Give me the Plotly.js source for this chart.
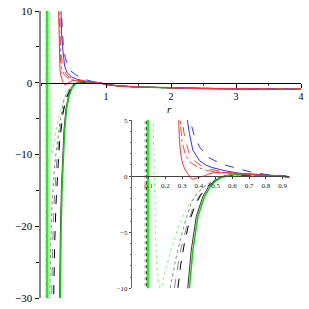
<!DOCTYPE html>
<html><head><meta charset="utf-8">
<script src="https://cdn.plot.ly/plotly-3.0.1.min.js"></script>
<style>html,body{margin:0;padding:0;background:#fff}#chart{width:309px;height:309px}</style>
</head><body><div id="chart"></div>
<script>
// shared tail (all curves merge for r >= 0.9)
const tailR = [0.9, 1.0, 1.2, 1.5, 2, 2.5, 3, 3.5, 4];
const tailV = [0.0, -0.25, -0.45, -0.6, -0.72, -0.8, -0.85, -0.88, -0.9];

const r_R1 = [0.262,0.27,0.276,0.283,0.29,0.303,0.318,0.334,0.35,0.364,0.38,0.4,0.434,0.46,0.495,0.55,0.6,0.65,0.7,0.8];
const v_R1 = [14,9.5,5.6,3.2,2.1,1.08,0.55,0.18,-0.15,-0.27,-0.22,-0.1,0.03,0.2,0.33,0.32,0.27,0.2,0.14,0.06];
const r_R2 = [0.28,0.287,0.293,0.3,0.31,0.323,0.343,0.36,0.384,0.41,0.434,0.47,0.516,0.56,0.6,0.65,0.7,0.8];
const v_R2 = [14,9.5,6.5,5,3.9,3.0,2.0,1.6,1.23,0.97,0.78,0.6,0.48,0.38,0.3,0.22,0.16,0.08];
const r_R3 = [0.27,0.278,0.285,0.292,0.3,0.32,0.35,0.4,0.45,0.5,0.6,0.7,0.8];
const v_R3 = [14,9.5,6,4.2,3.0,1.9,1.2,0.75,0.5,0.38,0.25,0.15,0.07];
const r_B1 = [0.298,0.305,0.315,0.33,0.343,0.364,0.404,0.44,0.475,0.556,0.637,0.7,0.8];
const v_B1 = [14,10,7.2,5.1,3.8,2.3,1.38,1.0,0.78,0.48,0.27,0.18,0.08];
const r_B2 = [0.305,0.312,0.325,0.345,0.374,0.404,0.455,0.536,0.637,0.7,0.8];
const v_B2 = [14,10.5,7.5,5.1,3.5,2.6,1.68,1.08,0.63,0.4,0.15];
const r_G1 = [0.285,0.295,0.31,0.325,0.343,0.364,0.394,0.434,0.465,0.495,0.53,0.556,0.6,0.65,0.7,0.8];
const v_G1 = [-37,-28,-20,-14.5,-10,-6.6,-3.6,-1.8,-1.0,-0.5,-0.15,0,0.15,0.2,0.18,0.1];
const r_K1 = [0.275,0.285,0.3,0.315,0.333,0.354,0.384,0.424,0.455,0.485,0.52,0.546,0.59,0.64,0.7,0.8];
const v_K1 = [-37,-28,-20,-14.5,-10,-6.6,-3.6,-1.8,-1.0,-0.5,-0.15,0,0.12,0.16,0.15,0.08];
const r_K2 = [0.17,0.19,0.21,0.23,0.25,0.273,0.29,0.313,0.34,0.374,0.41,0.455,0.5,0.54,0.6,0.7,0.8];
const v_K2 = [-42,-30,-22.5,-17,-13,-10,-8,-6,-4.2,-2.7,-1.7,-0.87,-0.4,-0.1,0.08,0.1,0.05];
const r_A2 = [0.14,0.16,0.18,0.2,0.22,0.24,0.253,0.28,0.3,0.33,0.36,0.4,0.45,0.5,0.55,0.6,0.7,0.8];
const v_A2 = [-42,-30,-22.5,-17,-13.5,-11.2,-10,-7.4,-6,-4.3,-3,-1.8,-0.9,-0.4,-0.05,0.1,0.1,0.05];
const r_A3 = [0.11,0.13,0.15,0.17,0.19,0.21,0.228,0.26,0.293,0.325,0.354,0.39,0.435,0.5,0.55,0.6,0.7,0.8];
const v_A3 = [-42,-30,-22,-17,-13.5,-11.5,-10,-7.5,-5.4,-3.7,-2.4,-1.5,-0.9,-0.3,0,0.1,0.1,0.05];
const r_G3 = [0.118,0.121,0.124,0.128,0.133,0.14,0.148,0.158,0.168,0.178,0.191,0.21,0.23,0.252,0.28,0.313,0.35,0.394,0.44,0.495,0.55,0.6,0.7,0.8];
const v_G3 = [40,20,10,4,-1,-5,-7.8,-9.4,-10,-9.8,-9.0,-7.8,-6.7,-5.7,-4.4,-3.3,-2.3,-1.47,-0.8,-0.3,0,0.1,0.1,0.05];
// near-vertical branches
const r_VA = [0.077,0.0775,0.078,0.0785,0.079];
const r_VK = [0.086,0.0865,0.087,0.0875,0.088];
const r_VG = [0.094,0.0945,0.095,0.0955,0.096];
const v_V  = [60,12,0,-12,-60];

const curves = [
  {r:r_VA, v:v_V, tail:false, color:'#999999', dash:'dot', width:1},
  {r:r_VK, v:v_V, tail:false, color:'#000000', dash:'dot', width:1},
  {r:r_VG, v:v_V, tail:false, color:'#22ee22', dash:'solid', width:2.5},
  {r:r_G3, v:v_G3, tail:true, color:'#77ff77', dash:'dot', width:1},
  {r:r_A3, v:v_A3, tail:true, color:'#888888', dash:'dot', width:1},
  {r:r_A2, v:v_A2, tail:true, color:'#888888', dash:'dash', width:1},
  {r:r_K2, v:v_K2, tail:true, color:'#000000', dash:'dash', width:1},
  {r:r_K1, v:v_K1, tail:true, color:'#333333', dash:'solid', width:1},
  {r:r_G1, v:v_G1, tail:true, color:'#11cc11', dash:'solid', width:1.5},
  {r:r_B2, v:v_B2, tail:true, color:'#3333ff', dash:'dash', width:1},
  {r:r_B1, v:v_B1, tail:true, color:'#3333ff', dash:'solid', width:1},
  {r:r_R3, v:v_R3, tail:true, color:'#ff4444', dash:'dashdot', width:1},
  {r:r_R2, v:v_R2, tail:true, color:'#ff4444', dash:'dash', width:1},
  {r:r_R1, v:v_R1, tail:true, color:'#ff3333', dash:'solid', width:1}
];

const data = [];
for (const c of curves) {
  const xs = c.tail ? c.r.concat(tailR) : c.r;
  const ys = c.tail ? c.v.concat(tailV) : c.v;
  for (const ax of [['x','y'],['x2','y2']]) {
    data.push({x:xs, y:ys, xaxis:ax[0], yaxis:ax[1], type:'scatter', mode:'lines',
      line:{color:c.color, dash:c.dash, width:c.width}, hoverinfo:'skip', showlegend:false});
  }
}

const serif = 'Liberation Serif, Times New Roman, serif';
const layout = {
  width:309, height:309,
  margin:{l:41, r:8, t:11, b:11},
  paper_bgcolor:'#fff', plot_bgcolor:'rgba(0,0,0,0)',
  showlegend:false,
  xaxis:{range:[0,4], domain:[0,1], anchor:'free', position:0.75,
    showline:true, linecolor:'#000', linewidth:1.5, zeroline:false, showgrid:false,
    tickvals:[1,2,3,4], ticks:'outside', ticklen:4, tickcolor:'#000',
    minor:{dtick:0.5, tick0:0, ticks:'outside', ticklen:2, tickcolor:'#444'},
    tickfont:{family:serif, size:10, color:'#000'}},
  yaxis:{range:[-30,10], domain:[0,1], anchor:'x',
    showline:true, linecolor:'#888', linewidth:2.5, zeroline:false, showgrid:false,
    tickvals:[10,0,-10,-20,-30], ticks:'outside', ticklen:4, tickcolor:'#000',
    minor:{dtick:5, tick0:0, ticks:'outside', ticklen:3, tickcolor:'#000'},
    tickfont:{family:serif, size:11, color:'#000'}},
  xaxis2:{range:[0,0.94], domain:[0.350,0.955], anchor:'free', position:0.4246,
    showline:true, linecolor:'#444', linewidth:1, zeroline:false, showgrid:false,
    tickvals:[0.1,0.2,0.3,0.4,0.5,0.6,0.7,0.8,0.9], ticks:'outside', ticklen:2, tickcolor:'#444',
    tickfont:{family:serif, size:7, color:'#222'}},
  yaxis2:{range:[-10,5], domain:[0.0338,0.620], anchor:'x2',
    showline:true, linecolor:'#666', linewidth:1, zeroline:false, showgrid:false,
    tickvals:[5,0,-5,-10], ticks:'outside', ticklen:2, tickcolor:'#444',
    minor:{dtick:1, tick0:0, ticks:'outside', ticklen:1.5, tickcolor:'#666'},
    tickfont:{family:serif, size:7, color:'#222'}},
  annotations:[{text:'<i>r</i>', xref:'x', yref:'y', x:1.97, y:-3.6, showarrow:false,
    font:{family:serif, size:11, color:'#000'}}]
};
Plotly.newPlot('chart', data, layout, {displayModeBar:false, staticPlot:true});
</script>
</body></html>
